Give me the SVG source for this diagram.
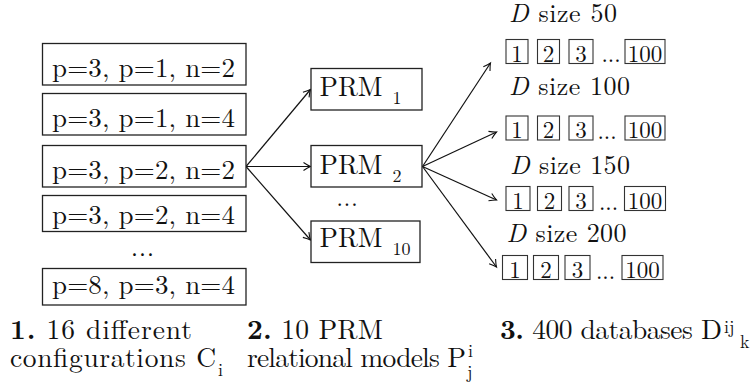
<svg xmlns="http://www.w3.org/2000/svg" width="752" height="384" viewBox="0 0 752 384">
<defs>
<style>
text{fill:#111}
.box{fill:#fff;stroke:#222;stroke-width:1.3}
.sb{fill:#fff;stroke:#333;stroke-width:1.1}
.bt{font-size:27px;text-anchor:middle}
.prm{font-size:27px}
.sub{font-size:18px}
.lab{font-size:26px}
.dig{font-size:23px;text-anchor:middle}
.dots{font-size:23px;text-anchor:middle}
.cap{font-size:27.5px}
.sm{font-size:18px}
.con{stroke:#111;stroke-width:1.2;fill:none;marker-end:url(#arr)}
</style>
<marker id="arr" markerUnits="userSpaceOnUse" markerWidth="14" markerHeight="14" viewBox="-8 -7 10 14" refX="0" refY="0" orient="auto">
<path d="M-7,-4 Q-2.5,-1 0,0 Q-2.5,1 -7,4" fill="none" stroke="#111" stroke-width="1.1"/>
</marker>
</defs>

<g id="connectors">
<line class="con" x1="246" y1="166.5" x2="310.5" y2="89.5"/>
<line class="con" x1="246" y1="166.5" x2="310.5" y2="166.5"/>
<line class="con" x1="246" y1="166.5" x2="310.5" y2="240"/>
<line class="con" x1="422.5" y1="166.5" x2="490.5" y2="63"/>
<line class="con" x1="422.5" y1="166.5" x2="496.5" y2="132"/>
<line class="con" x1="422.5" y1="166.5" x2="496.5" y2="200"/>
<line class="con" x1="422.5" y1="166.5" x2="496.5" y2="267"/>
</g>

<g font-family="Latin Modern Roman, Liberation Serif, serif">
<g id="config1"><rect class="box" x="42.5" y="43.5" width="203.5" height="41.5"/><text class="bt" x="143.5" y="76.5" textLength="183" lengthAdjust="spacing">p=3, p=1, n=2</text></g>
<g id="config2"><rect class="box" x="42.5" y="93.5" width="203.5" height="41.5"/><text class="bt" x="143.5" y="126.5" textLength="183" lengthAdjust="spacing">p=3, p=1, n=4</text></g>
<g id="config3"><rect class="box" x="42.5" y="145.5" width="203.5" height="41.5"/><text class="bt" x="143.5" y="178.5" textLength="183" lengthAdjust="spacing">p=3, p=2, n=2</text></g>
<g id="config4"><rect class="box" x="42.5" y="195.5" width="203.5" height="36"/><text class="bt" x="143.5" y="223.5" textLength="183" lengthAdjust="spacing">p=3, p=2, n=4</text></g>
<g id="config-dots"><text class="dots" x="143" y="256" style="font-size:25px;letter-spacing:1px">...</text></g>
<g id="config16"><rect class="box" x="42.5" y="268.5" width="203.5" height="36.5"/><text class="bt" x="143.5" y="294" textLength="183" lengthAdjust="spacing">p=8, p=3, n=4</text></g>

<g id="prm1"><rect class="box" x="311" y="68.5" width="111" height="41.5"/><text class="prm" x="319.5" y="96" textLength="63" lengthAdjust="spacing">PRM</text><text class="sub" x="392.5" y="104">1</text></g>
<g id="prm2"><rect class="box" x="311" y="145.5" width="111" height="41.5"/><text class="prm" x="319.5" y="173.5" textLength="63" lengthAdjust="spacing">PRM</text><text class="sub" x="392.5" y="181.5">2</text></g>
<g id="prm-dots"><text class="dots" x="347.5" y="206" style="font-size:23px;letter-spacing:1px">...</text></g>
<g id="prm10"><rect class="box" x="311" y="221" width="109" height="41.5"/><text class="prm" x="319.5" y="247" textLength="63" lengthAdjust="spacing">PRM</text><text class="sub" x="392.5" y="255">10</text></g>

<g id="db50">
<text class="lab" x="509" y="22" textLength="108" lengthAdjust="spacing"><tspan font-style="italic">D</tspan> size 50</text>
<rect class="sb" x="506" y="39.5" width="22" height="24"/><text class="dig" x="517" y="61.5">1</text>
<rect class="sb" x="537.5" y="39.5" width="22" height="24"/><text class="dig" x="548.5" y="61.5">2</text>
<rect class="sb" x="569" y="39.5" width="24" height="24"/><text class="dig" x="581" y="61.5">3</text>
<text class="dots" x="611" y="62">...</text>
<rect class="sb" x="625" y="39.5" width="40" height="24"/><text class="dig" x="645" y="61.5">100</text>
</g>
<g id="db100">
<text class="lab" x="509" y="94.5" textLength="121" lengthAdjust="spacing"><tspan font-style="italic">D</tspan> size 100</text>
<rect class="sb" x="506" y="116" width="22" height="24"/><text class="dig" x="517" y="138">1</text>
<rect class="sb" x="537.5" y="116" width="22" height="24"/><text class="dig" x="548.5" y="138">2</text>
<rect class="sb" x="569" y="116" width="24" height="24"/><text class="dig" x="581" y="138">3</text>
<text class="dots" x="607" y="139">...</text>
<rect class="sb" x="625" y="116" width="40" height="24"/><text class="dig" x="645" y="138">100</text>
</g>
<g id="db150">
<text class="lab" x="510" y="173.5" textLength="120" lengthAdjust="spacing"><tspan font-style="italic">D</tspan> size 150</text>
<rect class="sb" x="506" y="186.5" width="24" height="24"/><text class="dig" x="518" y="208.5">1</text>
<rect class="sb" x="537.5" y="186.5" width="24" height="24"/><text class="dig" x="549.5" y="208.5">2</text>
<rect class="sb" x="569" y="186.5" width="24" height="24"/><text class="dig" x="581" y="208.5">3</text>
<text class="dots" x="608.5" y="209.5">...</text>
<rect class="sb" x="624.5" y="186.5" width="41" height="24"/><text class="dig" x="645" y="208.5">100</text>
</g>
<g id="db200">
<text class="lab" x="506.5" y="242" textLength="120" lengthAdjust="spacing"><tspan font-style="italic">D</tspan> size 200</text>
<rect class="sb" x="502.5" y="255.5" width="25" height="24"/><text class="dig" x="515" y="277.5">1</text>
<rect class="sb" x="533.5" y="255.5" width="25" height="24"/><text class="dig" x="546" y="277.5">2</text>
<rect class="sb" x="565" y="255.5" width="25" height="24"/><text class="dig" x="577.5" y="277.5">3</text>
<text class="dots" x="605.5" y="278.5">...</text>
<rect class="sb" x="622" y="255.5" width="41" height="24"/><text class="dig" x="642.5" y="277.5">100</text>
</g>

<g id="caption1">
<text class="cap" x="10" y="339" textLength="182" lengthAdjust="spacing"><tspan font-weight="bold">1.</tspan> 16 different</text>
<text class="cap" x="10" y="367" textLength="206" lengthAdjust="spacing">configurations C</text>
<text class="sm" x="218" y="376">i</text>
</g>
<g id="caption2">
<text class="cap" x="247" y="339" textLength="136" lengthAdjust="spacing"><tspan font-weight="bold">2.</tspan> 10 PRM</text>
<text class="cap" x="247" y="367" textLength="219" lengthAdjust="spacing">relational models P</text>
<text class="sm" x="468" y="357">i</text>
<text class="sm" x="467" y="378">j</text>
</g>
<g id="caption3">
<text class="cap" x="500" y="339" textLength="222" lengthAdjust="spacing"><tspan font-weight="bold">3.</tspan> 400 databases D</text>
<text class="sm" x="724" y="333">ij</text>
<text class="sm" x="740" y="348">k</text>
</g>
</g>
</svg>
